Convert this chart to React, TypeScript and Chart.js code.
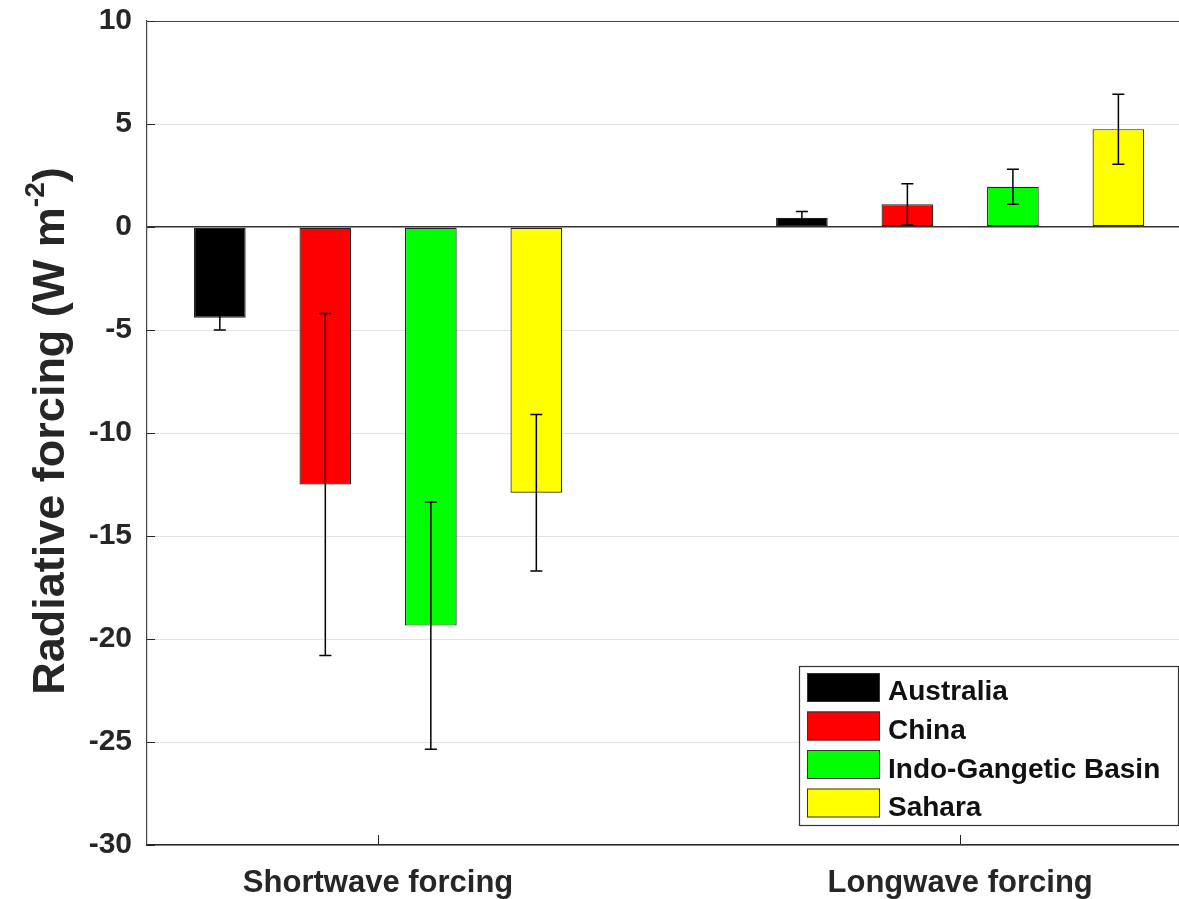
import React, { useEffect, useRef } from "react";
import { Chart, registerables } from "chart.js";

Chart.register(...registerables);

const categories = ["Shortwave forcing", "Longwave forcing"];
const regions = ["Australia", "China", "Indo-Gangetic Basin", "Sahara"];
const regionColors = ["#000000", "#ff0000", "#00ff00", "#ffff00"];

const australia = [-4.4, 0.45];
const australiaErr = [0.6, 0.3];
const china = [-12.5, 1.1];
const chinaErr = [8.3, 1.0];
const igb = [-19.35, 1.95];
const igbErr = [6.0, 0.85];
const sahara = [-12.9, 4.75];
const saharaErr = [3.8, 1.7];

const yTicks = [-30, -25, -20, -15, -10, -5, 0, 5, 10];

const seriesValues = [australia, china, igb, sahara];
const seriesErrors = [australiaErr, chinaErr, igbErr, saharaErr];

const FONT = "Arial, 'Liberation Sans', sans-serif";
const TEXT = "#262626";

const errorBarPlugin = {
  id: "errorBars",
  afterDatasetsDraw(chart: any) {
    const ctx = chart.ctx;
    const ys = chart.scales.y;
    ctx.save();
    ctx.strokeStyle = "#000";
    ctx.lineWidth = 1.5;
    chart.data.datasets.forEach((ds: any, i: number) => {
      const meta = chart.getDatasetMeta(i);
      meta.data.forEach((bar: any, j: number) => {
        const v = seriesValues[i][j];
        const e = seriesErrors[i][j];
        const x = bar.x;
        const y1 = ys.getPixelForValue(v + e);
        const y2 = ys.getPixelForValue(v - e);
        const cap = 6;
        ctx.beginPath();
        ctx.moveTo(x, y1);
        ctx.lineTo(x, y2);
        ctx.moveTo(x - cap, y1);
        ctx.lineTo(x + cap, y1);
        ctx.moveTo(x - cap, y2);
        ctx.lineTo(x + cap, y2);
        ctx.stroke();
      });
    });
    ctx.restore();
  },
};

const framePlugin = {
  id: "frame",
  afterDraw(chart: any) {
    const ctx = chart.ctx;
    const a = chart.chartArea;
    const xs = chart.scales.x;
    const ys = chart.scales.y;
    ctx.save();
    ctx.strokeStyle = "#444";
    ctx.lineWidth = 1.2;
    ctx.beginPath();
    ctx.moveTo(a.left, a.top + 0.5);
    ctx.lineTo(a.right, a.top + 0.5);
    ctx.stroke();
    ctx.strokeStyle = "#262626";
    ctx.lineWidth = 1;
    [1, 2].forEach((v) => {
      const x = Math.round(xs.getPixelForValue(v)) + 0.5;
      ctx.beginPath();
      ctx.moveTo(x, a.bottom);
      ctx.lineTo(x, a.bottom - 10);
      ctx.stroke();
    });
    yTicks.forEach((v) => {
      const y = Math.round(ys.getPixelForValue(v)) + 0.5;
      ctx.beginPath();
      ctx.moveTo(a.left, y);
      ctx.lineTo(a.left + 8, y);
      ctx.stroke();
    });

    // Y axis title with superscript
    const big = `bold 45px ${FONT}`;
    const small = `bold 28px ${FONT}`;
    const p1 = "Radiative forcing (W m";
    const p2 = "-2";
    const p3 = ")";
    ctx.font = big;
    const w1 = ctx.measureText(p1).width;
    const w3 = ctx.measureText(p3).width;
    ctx.font = small;
    const w2 = ctx.measureText(p2).width;
    const total = w1 + w2 + w3;
    ctx.translate(64, 431);
    ctx.rotate(-Math.PI / 2);
    ctx.fillStyle = TEXT;
    ctx.textBaseline = "alphabetic";
    ctx.textAlign = "left";
    let x0 = -total / 2;
    ctx.font = big;
    ctx.fillText(p1, x0, 0);
    x0 += w1;
    ctx.font = small;
    ctx.fillText(p2, x0, -20);
    x0 += w2;
    ctx.font = big;
    ctx.fillText(p3, x0, 0);
    ctx.restore();

    // Legend
    ctx.save();
    const lx = 799, ly = 666, lw = 379, lh = 159;
    ctx.fillStyle = "#fff";
    ctx.fillRect(lx, ly, lw, lh);
    ctx.strokeStyle = "#333";
    ctx.lineWidth = 1.2;
    ctx.strokeRect(lx + 0.5, ly + 0.5, lw, lh);
    regions.forEach((r, i) => {
      const top = 673 + i * 38.5;
      ctx.fillStyle = regionColors[i];
      ctx.fillRect(807, top, 73, 29);
      ctx.strokeStyle = "#333";
      ctx.lineWidth = 1;
      ctx.strokeRect(807.5, top + 0.5, 72, 28);
      ctx.fillStyle = "#111";
      ctx.font = `bold 28px ${FONT}`;
      ctx.textBaseline = "alphabetic";
      ctx.textAlign = "left";
      ctx.fillText(r, 888, 700 + i * 38.8);
    });
    ctx.restore();
  },
};

export default function App() {
  const ref = useRef<HTMLCanvasElement>(null);
  useEffect(() => {
    if (!ref.current) return;
    const chart = new Chart(ref.current, {
      type: "bar",
      data: {
        datasets: regions.map((r, i) => ({
          label: r,
          data: seriesValues[i].map((v, j) => ({ x: j + 1, y: v })),
          backgroundColor: regionColors[i],
          borderColor: "#222",
          borderWidth: 1.2,
          borderSkipped: false,
          categoryPercentage: 0.725,
          barPercentage: 0.49,
        })),
      },
      plugins: [errorBarPlugin, framePlugin],
      options: {
        animation: false,
        responsive: false,
        events: [],
        layout: { padding: { top: 21, right: 0, left: 0, bottom: 0 } },
        plugins: { legend: { display: false }, tooltip: { enabled: false } },
        scales: {
          x: {
            type: "linear",
            offset: false,
            min: 0.603,
            max: 2.376,
            afterBuildTicks: (scale: any) => {
              scale.ticks = [{ value: 1 }, { value: 2 }];
            },
            afterFit: (scale: any) => {
              scale.height = 54;
              scale.paddingLeft = 0;
              scale.paddingRight = 0;
            },
            grid: { drawOnChartArea: false, drawTicks: false, offset: false },
            border: { display: true, color: "#262626", width: 1.5 },
            ticks: {
              autoSkip: false,
              maxRotation: 0,
              padding: 20,
              color: TEXT,
              font: { family: FONT, size: 31, weight: "bold" },
              callback: (v: any) => categories[Math.round(Number(v)) - 1] ?? "",
            },
          },
          y: {
            min: -30,
            max: 10,
            afterBuildTicks: (scale: any) => {
              scale.ticks = yTicks.map((v) => ({ value: v }));
            },
            afterFit: (scale: any) => {
              scale.width = 147;
              scale.paddingTop = 0;
              scale.paddingBottom = 0;
            },
            grid: {
              drawTicks: false,
              color: (c: any) => (c.tick && c.tick.value === 0 ? "#333" : "#e2e2e2"),
              lineWidth: (c: any) => (c.tick && c.tick.value === 0 ? 1.5 : 1),
            },
            border: { display: true, color: "#444", width: 1.2 },
            ticks: {
              padding: 15,
              color: TEXT,
              font: { family: FONT, size: 30, weight: "bold" },
              callback: (v: any) => String(v),
            },
          },
        },
      } as any,
    });
    return () => chart.destroy();
  }, []);
  return (
    <div style={{ position: "absolute", left: 0, top: 0, width: 1179, height: 899, background: "#fff" }}>
      <canvas ref={ref} width={1179} height={899} />
    </div>
  );
}
